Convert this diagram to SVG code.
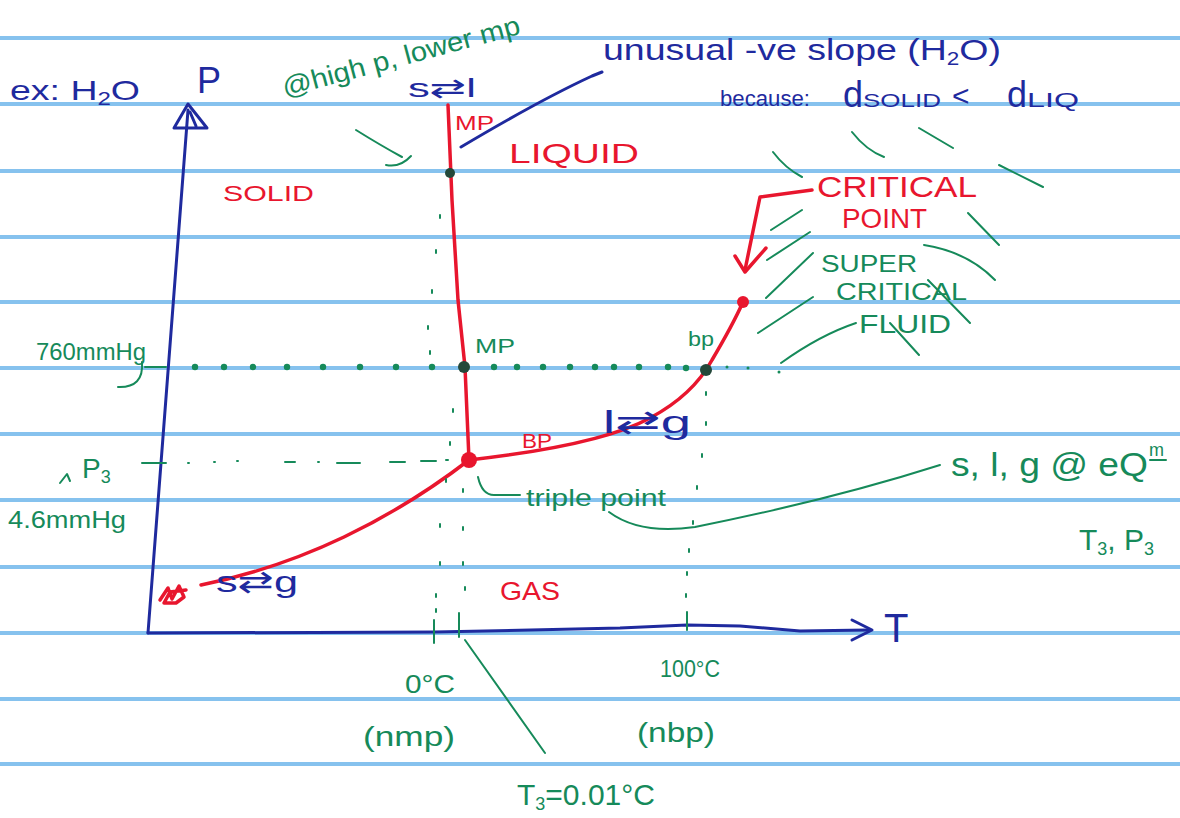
<svg xmlns="http://www.w3.org/2000/svg" width="1180" height="818" viewBox="0 0 1180 818">
<style>
text{font-family:"Liberation Sans","DejaVu Sans",sans-serif}
.b{fill:#1f2a9e}.r{fill:#e8162e}.g{fill:#168a5a}
.rule{stroke:#86c2ee;stroke-width:4}
.bl{stroke:#1f2a9e;stroke-width:3;fill:none;stroke-linecap:round;stroke-linejoin:round}
.rl{stroke:#e8162e;stroke-width:3.5;fill:none;stroke-linecap:round;stroke-linejoin:round}
.gl{stroke:#168a5a;stroke-width:2;fill:none;stroke-linecap:round;stroke-linejoin:round}
.gd{fill:#168a5a}
.dk{fill:#24483a}
</style>
<rect width="1180" height="818" fill="#ffffff"/>
<g id="paper">
<line class="rule" x1="0" y1="38" x2="1180" y2="38"/>
<line class="rule" x1="0" y1="104" x2="1180" y2="104"/>
<line class="rule" x1="0" y1="171" x2="1180" y2="171"/>
<line class="rule" x1="0" y1="237" x2="1180" y2="237"/>
<line class="rule" x1="0" y1="302" x2="1180" y2="302"/>
<line class="rule" x1="0" y1="368" x2="1180" y2="368"/>
<line class="rule" x1="0" y1="434" x2="1180" y2="434"/>
<line class="rule" x1="0" y1="500" x2="1180" y2="500"/>
<line class="rule" x1="0" y1="567" x2="1180" y2="567"/>
<line class="rule" x1="0" y1="633" x2="1180" y2="633"/>
<line class="rule" x1="0" y1="699" x2="1180" y2="699"/>
<line class="rule" x1="0" y1="764" x2="1180" y2="764"/>
</g>
<g id="axes">
<path class="bl" d="M148,633 L188,110"/>
<path class="bl" d="M188,104 L174,128 L207,128 Z M190,112 L196,126"/>
<path class="bl" d="M148,633 L435,632 L620,628 L687,625 L740,626 L800,631 L868,630"/>
<path class="bl" d="M852,620 L872,630 L852,640"/>
<text class="b" x="884" y="642" font-size="40">T</text>
<text class="b" x="197" y="93" font-size="36">P</text>
</g>
<g id="connectors">
<!-- phase boundaries -->
<path class="rl" d="M448,105 L452,200 L458,300 L465,367 L469,460"/>
<path class="rl" d="M469,460 C540,452 610,440 650,418 C680,402 700,382 712,360 C725,338 735,320 743,302"/>
<path class="rl" d="M469,460 C430,490 390,515 344,537 C300,558 250,575 201,585"/>
<path class="rl" d="M160,600 L168,588 L172,599 L179,586 L184,597 L176,603 L164,603 L170,592 L186,590" stroke-width="3"/>
<!-- critical point arrow -->
<path class="rl" d="M812,190 L760,197 L745,270" stroke-width="3"/>
<path class="rl" d="M735,256 L745,272 L766,248" stroke-width="3"/>
<!-- blue annotation to slope -->
<path class="bl" d="M461,147 Q540,100 592,76 L602,72" stroke-width="2"/>
<!-- green pointer to upper dot -->
<path class="gl" d="M356,130 Q380,145 402,157 M386,165 Q400,168 411,156"/>
<!-- ticks -->
<path class="gl" stroke-width="3" d="M145,367 L166,367 M142,463 L166,463 M434,620 L434,643 M459,613 L459,637 M687,612 L687,630"/>
<!-- 760 dotted line -->
<g class="gd">
<circle cx="195" cy="367" r="3.2"/><circle cx="224" cy="367" r="3.2"/><circle cx="253" cy="367" r="3.2"/><circle cx="287" cy="367" r="3.2"/><circle cx="323" cy="367" r="3.2"/><circle cx="360" cy="367" r="3.2"/><circle cx="396" cy="367" r="3.2"/><circle cx="432" cy="367" r="3.2"/><circle cx="494" cy="367" r="3.2"/><circle cx="517" cy="367" r="3.2"/><circle cx="543" cy="367" r="3.2"/><circle cx="570" cy="367" r="3.2"/><circle cx="595" cy="367" r="3.2"/><circle cx="614" cy="367" r="3.2"/><circle cx="639" cy="367" r="3.2"/><circle cx="668" cy="367" r="3.2"/><circle cx="686" cy="368" r="3.2"/>
<circle cx="727" cy="367" r="1.5"/><circle cx="748" cy="368" r="1.5"/><circle cx="779" cy="372" r="1.5"/>
</g>
<!-- P3 dashed line -->
<path class="gl" d="M188,463 L189,463 M214,462 L215,462 M237,461 L238,461 M285,462 L295,462 M318,462 L319,462 M337,463 L360,463 M390,462 L405,462 M421,461 L436,461 M446,460 L448,460"/>
<!-- vertical dotted at 0 C -->
<path class="gl" d="M440,215 L440,218 M436,250 L436,253 M432,290 L432,293 M428,326 L428,329 M430,351 L430,354 M453,409 L453,412 M450,442 L450,445 M446,479 L446,482 M463,489 L463,492 M440,524 L440,527 M463,527 L463,530 M440,562 L440,565 M463,562 L463,565 M436,594 L436,597 M465,587 L465,590 M436,609 L436,612"/>
<!-- vertical dotted at 100 C -->
<path class="gl" d="M706,392 L706,395 M706,422 L706,425 M702,454 L702,457 M697,486 L697,489 M693,521 L693,524 M689,549 L689,552 M687,572 L687,575 M686,594 L686,597"/>
<!-- pointers -->
<path class="gl" d="M142,362 Q144,388 118,387"/>
<path class="gl" d="M60,483 L67,474 L70,481"/>
<path class="gl" d="M478,477 Q482,495 494,495 L520,495"/>
<path class="gl" d="M609,512 Q640,535 695,527 Q830,500 940,465"/>
<path class="gl" d="M465,640 L545,753"/>
<!-- supercritical rays -->
<path class="gl" d="M773,152 Q785,168 802,177 M852,132 Q866,150 884,157 M919,128 L953,148 M999,165 L1043,187 M968,213 L999,245 M771,230 L802,210 M767,260 L810,232 M766,298 L813,253 M758,333 L813,297 M781,363 Q820,335 856,323 M924,245 Q968,252 995,280 M928,280 L970,323 M890,323 L919,355"/>
</g>
<g id="triple-point"><circle cx="469" cy="460" r="8" class="r"/></g>
<g id="critical-point"><circle cx="743" cy="302" r="6" class="r"/></g>
<g id="mp-dot-high"><circle cx="450" cy="173" r="5" class="dk"/></g>
<g id="mp-dot"><circle cx="464" cy="367" r="6" class="dk"/></g>
<g id="bp-dot"><circle cx="706" cy="370" r="6" class="dk"/></g>
<g id="labels">
<text class="b" x="10" y="100" font-size="28" textLength="130" lengthAdjust="spacingAndGlyphs">ex: H<tspan font-size="18" dy="5">2</tspan><tspan dy="-5">O</tspan></text>
<text class="g" x="285" y="97" font-size="27" transform="rotate(-15 285 97)" textLength="245" lengthAdjust="spacingAndGlyphs">@high p, lower mp</text>
<text class="b" x="408" y="97" font-size="26" textLength="68" lengthAdjust="spacingAndGlyphs">s⇄l</text>
<text class="r" x="455" y="130" font-size="20" textLength="39" lengthAdjust="spacingAndGlyphs">MP</text>
<text class="b" x="603" y="60" font-size="30" textLength="398" lengthAdjust="spacingAndGlyphs">unusual -ve slope (H<tspan font-size="18" dy="5">2</tspan><tspan dy="-5">O)</tspan></text>
<text class="b" x="720" y="106" font-size="22" textLength="90" lengthAdjust="spacingAndGlyphs">because:</text>
<text class="b" x="843" y="107" font-size="36">d<tspan font-size="18" textLength="78" lengthAdjust="spacingAndGlyphs">SOLID</tspan></text>
<text class="b" x="952" y="106" font-size="30">&lt;</text>
<text class="b" x="1007" y="107" font-size="36">d<tspan font-size="20" textLength="52" lengthAdjust="spacingAndGlyphs">LIQ</tspan></text>
<text class="r" x="509" y="163" font-size="28" textLength="130" lengthAdjust="spacingAndGlyphs">LIQUID</text>
<text class="r" x="223" y="201" font-size="22" textLength="91" lengthAdjust="spacingAndGlyphs">SOLID</text>
<text class="r" x="817" y="197" font-size="30" textLength="160" lengthAdjust="spacingAndGlyphs">CRITICAL</text>
<text class="r" x="842" y="228" font-size="28" textLength="85" lengthAdjust="spacingAndGlyphs">POINT</text>
<text class="g" x="821" y="272" font-size="24" textLength="96" lengthAdjust="spacingAndGlyphs">SUPER</text>
<text class="g" x="836" y="300" font-size="24" textLength="131" lengthAdjust="spacingAndGlyphs">CRITICAL</text>
<text class="g" x="859" y="333" font-size="26" textLength="92" lengthAdjust="spacingAndGlyphs">FLUID</text>
<text class="g" x="36" y="360" font-size="24" textLength="110" lengthAdjust="spacingAndGlyphs">760mmHg</text>
<text class="g" x="475" y="353" font-size="20" textLength="40" lengthAdjust="spacingAndGlyphs">MP</text>
<text class="g" x="688" y="346" font-size="20" textLength="26" lengthAdjust="spacingAndGlyphs">bp</text>
<text class="r" x="522" y="448" font-size="20" textLength="30" lengthAdjust="spacingAndGlyphs">BP</text>
<text class="b" x="603" y="433" font-size="32" textLength="88" lengthAdjust="spacingAndGlyphs">l⇄g</text>
<text class="g" x="82" y="478" font-size="28">P<tspan font-size="18" dy="5">3</tspan></text>
<text class="g" x="8" y="528" font-size="24" textLength="118" lengthAdjust="spacingAndGlyphs">4.6mmHg</text>
<text class="g" x="526" y="506" font-size="24" textLength="140" lengthAdjust="spacingAndGlyphs">triple point</text>
<text class="r" x="500" y="600" font-size="26" textLength="60" lengthAdjust="spacingAndGlyphs">GAS</text>
<text class="b" x="216" y="592" font-size="30" textLength="82" lengthAdjust="spacingAndGlyphs">s⇄g</text>
<text class="g" x="951" y="476" font-size="34" textLength="197" lengthAdjust="spacingAndGlyphs">s, l, g @ eQ</text>
<text class="g" x="1149" y="456" font-size="18">m</text>
<path class="gl" d="M1150,460 L1166,460"/>
<text class="g" x="1079" y="550" font-size="30">T<tspan font-size="18" dy="5">3</tspan><tspan dy="-5">, P</tspan><tspan font-size="18" dy="5">3</tspan></text>
<text class="g" x="405" y="693" font-size="26" textLength="50" lengthAdjust="spacingAndGlyphs">0°C</text>
<text class="g" x="363" y="746" font-size="28" textLength="92" lengthAdjust="spacingAndGlyphs">(nmp)</text>
<text class="g" x="660" y="677" font-size="24" textLength="60" lengthAdjust="spacingAndGlyphs">100°C</text>
<text class="g" x="637" y="742" font-size="28" textLength="78" lengthAdjust="spacingAndGlyphs">(nbp)</text>
<text class="g" x="517" y="805" font-size="30">T<tspan font-size="18" dy="5">3</tspan><tspan dy="-5">=0.01°C</tspan></text>
</g>
</svg>
